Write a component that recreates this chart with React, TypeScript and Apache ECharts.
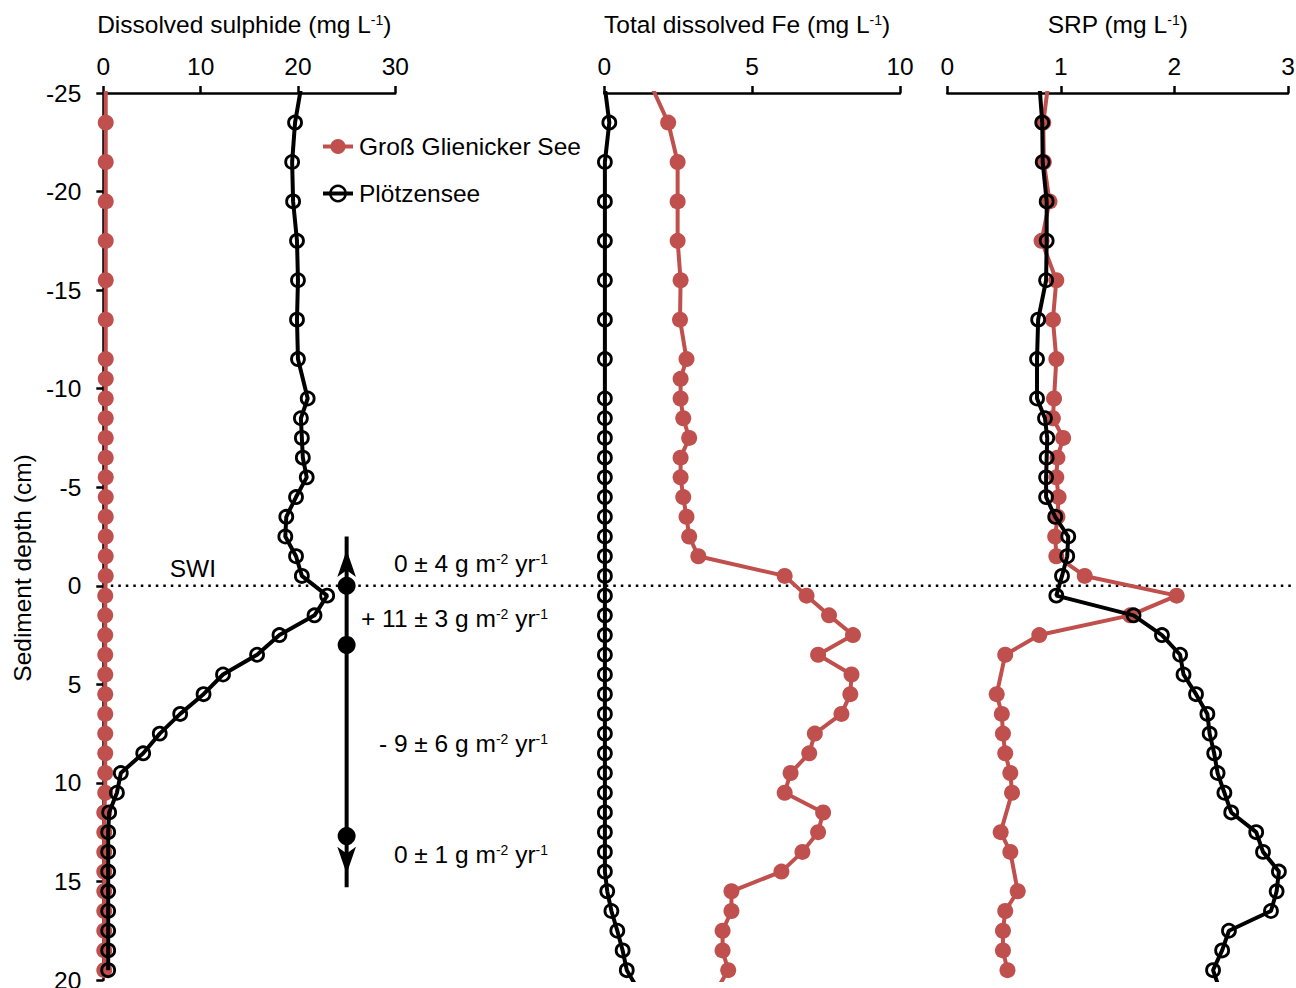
import { useEffect, useRef } from 'react';
import * as echarts from 'echarts';

// Sample depths (cm), shared by all profiles (null = no sample at that depth)
const depths = [-25.5, -23.5, -21.5, -19.5, -17.5, -15.5, -13.5, -11.5, -10.5, -9.5, -8.5, -7.5, -6.5, -5.5, -4.5, -3.5, -2.5, -1.5, -0.5,
  0.5, 1.5, 2.5, 3.5, 4.5, 5.5, 6.5, 7.5, 8.5, 9.5, 10.5, 11.5, 12.5, 13.5, 14.5, 15.5, 16.5, 17.5, 18.5, 19.5, 20.5];

const sulphideGGS = [0.25, 0.25, 0.25, 0.25, 0.25, 0.25, 0.25, 0.25, 0.25, 0.25, 0.25, 0.25, 0.25, 0.25, 0.25, 0.25, 0.25, 0.25, 0.25,
  0.2, 0.2, 0.2, 0.2, 0.2, 0.2, 0.2, 0.2, 0.2, 0.2, 0.2, 0.1, 0.1, 0.1, 0.1, 0.1, 0.1, 0.1, 0.1, 0.1, null];
const sulphidePlo = [20.4, 19.7, 19.4, 19.5, 19.9, 20.0, 19.9, 20.0, null, 21.0, 20.3, 20.4, 20.5, 20.9, 19.8, 18.8, 18.7, 19.8, 20.4,
  23.0, 21.7, 18.1, 15.8, 12.3, 10.3, 7.9, 5.8, 4.1, 1.8, 1.4, 0.6, 0.5, 0.5, 0.5, 0.5, 0.5, 0.5, 0.5, 0.5, null];

const feGGS = [1.55, 2.16, 2.48, 2.48, 2.48, 2.58, 2.56, 2.78, 2.58, 2.58, 2.67, 2.87, 2.58, 2.58, 2.67, 2.78, 2.87, 3.18, 6.1,
  6.84, 7.6, 8.41, 7.23, 8.36, 8.32, 8.02, 7.12, 6.93, 6.3, 6.1, 7.4, 7.23, 6.7, 5.99, 4.3, 4.3, 4.0, 4.0, 4.19, 3.8];
const fePlo = [0.0, 0.17, 0.02, 0.02, 0.02, 0.02, 0.02, 0.02, null, 0.02, 0.02, 0.02, 0.02, 0.02, 0.02, 0.02, 0.02, 0.02, 0.02,
  0.02, 0.02, 0.02, 0.02, 0.02, 0.02, 0.02, 0.02, 0.02, 0.02, 0.02, 0.02, 0.02, 0.02, 0.02, 0.1, 0.24, 0.44, 0.62, 0.76, 1.15];

const srpGGS = [0.89, 0.845, 0.85, 0.9, 0.83, 0.96, 0.93, 0.96, null, 0.94, 0.93, 1.02, 0.97, 0.96, 0.98, 0.97, 0.95, 0.96, 1.21,
  2.02, 1.61, 0.81, 0.51, null, 0.435, 0.48, 0.49, 0.51, 0.555, 0.57, null, 0.47, 0.555, null, 0.62, 0.51, 0.49, 0.49, 0.53, null];
const srpPlo = [0.81, 0.836, 0.84, 0.875, 0.875, 0.87, 0.8, 0.79, null, 0.79, 0.86, 0.88, 0.875, 0.87, 0.87, 0.95, 1.065, 1.056, 1.01,
  0.96, 1.64, 1.89, 2.05, 2.08, 2.19, 2.29, 2.31, 2.35, 2.38, 2.44, 2.5, 2.72, 2.78, 2.92, 2.9, 2.85, 2.48, 2.42, 2.34, 2.4];

const yTicksMin = -25;
const yTicksMax = 20;
const xMax = [30, 10, 3];
const xInterval = [10, 5, 1];
const axisTitles = ['Dissolved sulphide (mg L{sup|-1})', 'Total dissolved Fe (mg L{sup|-1})', 'SRP (mg L{sup|-1})'];
const seriesNames = ['Groß Glienicker See', 'Plötzensee'];

// Flux annotation (in sulphide-panel units)
const fluxX = 25;
const fluxArrowDepths = [-2.5, 15.3];
const fluxBoundaryDepths = [0, 3, 12.7];
const fluxTexts = ['0 ± 4', '+ 11 ± 3', '- 9 ± 6', '0 ± 1'];
const fluxTextDepths = [-1.15, 1.65, 8.0, 13.65];

const RED = '#c0504d';
const BLACK = '#000000';
const FONT = '"Liberation Sans", Arial, Helvetica, sans-serif';
const FS = 24.5;

const toPoints = (vals: (number | null)[]) =>
  depths.map((d, i) => [vals[i], d]).filter((p) => p[0] != null);

export default function App() {
  const ref = useRef<HTMLDivElement>(null);

  useEffect(() => {
    document.body.style.margin = '0';
    const el = ref.current!;
    const chart = echarts.init(el, null, { renderer: 'svg' });

    const grids = [
      { left: 103.3, top: 93, width: 292, height: 887 },
      { left: 604.3, top: 93, width: 295.7, height: 887 },
      { left: 947.3, top: 93, width: 340.7, height: 887 },
    ].map((g) => ({ ...g, outerBoundsMode: 'none' }));

    const xAxes = [0, 1, 2].map((i) => ({
      type: 'value',
      gridIndex: i,
      position: 'top',
      min: 0,
      max: xMax[i],
      interval: xInterval[i],
      name: axisTitles[i],
      nameLocation: 'middle',
      nameGap: 56,
      nameTextStyle: {
        fontSize: FS,
        fontFamily: FONT,
        color: BLACK,
        padding: i < 2 ? [0, 10, 0, 0] : 0,
        rich: { sup: { fontSize: 14, fontFamily: FONT, color: BLACK, padding: [0, 0, 9, 0] } },
      },
      axisLine: { show: true, onZero: false, lineStyle: { color: BLACK, width: 2.5 } },
      axisTick: { show: true, inside: false, length: 7, lineStyle: { color: BLACK, width: 2.5 } },
      axisLabel: { show: true, fontSize: FS, fontFamily: FONT, color: BLACK, margin: 14 },
      splitLine: { show: false },
    }));

    const yAxes = [0, 1, 2].map((i) => ({
      type: 'value',
      gridIndex: i,
      inverse: true,
      min: yTicksMin,
      max: yTicksMax,
      interval: 5,
      show: i === 0,
      axisLine: { show: true, onZero: false, lineStyle: { color: BLACK, width: 2.5 } },
      axisTick: { show: true, inside: false, length: 7, lineStyle: { color: BLACK, width: 2.5 } },
      axisLabel: { show: true, fontSize: FS, fontFamily: FONT, color: BLACK, margin: 22 },
      splitLine: { show: false },
    }));

    const redSeries = (vals: (number | null)[], idx: number) => ({
      name: seriesNames[0],
      type: 'line',
      xAxisIndex: idx,
      yAxisIndex: idx,
      data: toPoints(vals),
      symbol: 'circle',
      symbolSize: 16,
      showAllSymbol: true,
      clip: true,
      silent: true,
      lineStyle: { color: RED, width: 4 },
      itemStyle: { color: RED, opacity: 1 },
      z: 2,
    });
    const blackSeries = (vals: (number | null)[], idx: number) => ({
      name: seriesNames[1],
      type: 'line',
      xAxisIndex: idx,
      yAxisIndex: idx,
      data: toPoints(vals),
      symbol: 'circle',
      symbolSize: 13,
      showAllSymbol: true,
      clip: true,
      silent: true,
      lineStyle: { color: BLACK, width: 4 },
      itemStyle: { color: 'rgba(0,0,0,0)', borderColor: BLACK, borderWidth: 2.8 },
      z: 3,
    });

    const option: any = {
      animation: false,
      backgroundColor: '#ffffff',
      textStyle: { fontFamily: FONT },
      grid: grids,
      xAxis: xAxes,
      yAxis: yAxes,
      legend: {
        orient: 'vertical',
        left: 316,
        top: 129,
        itemWidth: 30,
        itemHeight: 19,
        itemGap: 22,
        selectedMode: false,
        textStyle: { fontSize: FS, fontFamily: FONT, color: BLACK, padding: [0, 0, 0, 1] },
        data: [
          { name: seriesNames[0], itemStyle: { color: RED, borderWidth: 0 }, lineStyle: { color: RED, width: 4 } },
          { name: seriesNames[1], itemStyle: { color: 'rgba(0,0,0,0)', borderColor: BLACK, borderWidth: 2.5 }, lineStyle: { color: BLACK, width: 4 } },
        ],
      },
      series: [
        redSeries(sulphideGGS, 0),
        blackSeries(sulphidePlo, 0),
        redSeries(feGGS, 1),
        blackSeries(fePlo, 1),
        redSeries(srpGGS, 2),
        blackSeries(srpPlo, 2),
        {
          name: 'flux-axis',
          type: 'line',
          xAxisIndex: 0,
          yAxisIndex: 0,
          data: fluxArrowDepths.map((d) => [fluxX, d]),
          symbol: 'none',
          silent: true,
          lineStyle: { color: BLACK, width: 4 },
          z: 4,
        },
        {
          name: 'flux-arrows',
          type: 'scatter',
          xAxisIndex: 0,
          yAxisIndex: 0,
          symbol: 'arrow',
          symbolSize: [14, 27],
          silent: true,
          itemStyle: { color: BLACK, opacity: 1 },
          data: [
            { value: [fluxX, fluxArrowDepths[0]], symbolRotate: 0, symbolOffset: [0, 13.5] },
            { value: [fluxX, fluxArrowDepths[1]], symbolRotate: 180, symbolOffset: [0, -13.5] },
          ],
          z: 5,
        },
        {
          name: 'flux-boundaries',
          type: 'scatter',
          xAxisIndex: 0,
          yAxisIndex: 0,
          symbol: 'circle',
          symbolSize: 18,
          silent: true,
          itemStyle: { color: BLACK, opacity: 1 },
          data: fluxBoundaryDepths.map((d) => [fluxX, d]),
          z: 6,
        },
      ],
    };

    chart.setOption(option);

    const px = (grid: number, x: number, y: number) =>
      chart.convertToPixel({ gridIndex: grid }, [x, y]) as number[];
    const [xLeft, y0] = px(0, 0, 0);
    const swi = px(0, 9.2, -0.9);
    const zrRich = {
      sup: { fontSize: 14, fontFamily: FONT, fill: BLACK, padding: [0, 0, 9, 0] },
    };

    const graphics: any[] = [
      {
        type: 'line',
        z: 1,
        silent: true,
        shape: { x1: xLeft, y1: y0, x2: 1291, y2: y0 },
        style: { stroke: BLACK, lineWidth: 2.5, lineDash: [2.5, 5] },
      },
      {
        type: 'text',
        x: swi[0],
        y: swi[1],
        silent: true,
        style: {
          text: 'SWI', fontSize: FS, fontFamily: FONT, fill: BLACK,
          align: 'center', verticalAlign: 'middle', textAlign: 'center', textVerticalAlign: 'middle',
        },
      },
      ...fluxTexts.map((t, i) => {
        const p = px(0, fluxX, fluxTextDepths[i]);
        return {
          type: 'text',
          x: 548,
          y: p[1],
          silent: true,
          style: {
            text: `${t} g m{sup|-2} yr{sup|-1}`,
            fontSize: FS, fontFamily: FONT, fill: BLACK,
            align: 'right', verticalAlign: 'middle', textAlign: 'right', textVerticalAlign: 'middle',
            rich: zrRich,
          },
        };
      }),
      {
        type: 'text',
        x: 22,
        y: 568,
        rotation: Math.PI / 2,
        silent: true,
        style: {
          text: 'Sediment depth (cm)', fontSize: FS, fontFamily: FONT, fill: BLACK,
          align: 'center', verticalAlign: 'middle', textAlign: 'center', textVerticalAlign: 'middle',
        },
      },
    ];
    chart.setOption({ graphic: graphics });

    return () => {
      chart.dispose();
    };
  }, []);

  return <div ref={ref} style={{ width: 1296, height: 988 }} />;
}
